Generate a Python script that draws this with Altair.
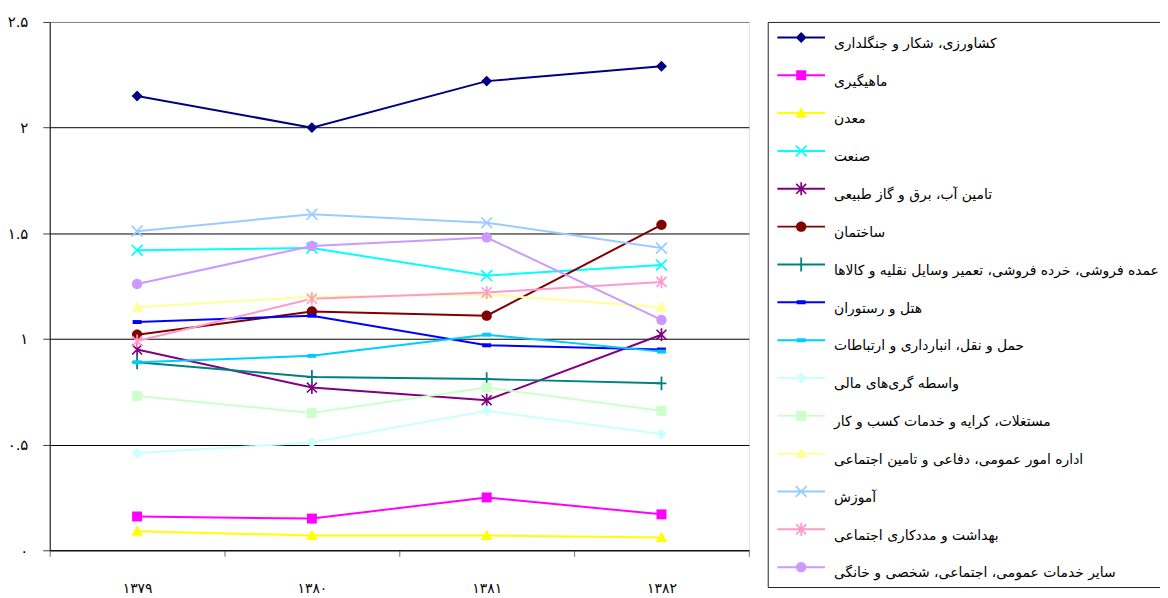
import altair as alt
import pandas as pd
import math

years = ["۱۳۷۹", "۱۳۸۰", "۱۳۸۱", "۱۳۸۲"]

series_names = [
    "کشاورزی، شکار و جنگلداری",
    "ماهیگیری",
    "معدن",
    "صنعت",
    "تامین آب، برق و گاز طبیعی",
    "ساختمان",
    "عمده فروشی، خرده فروشی، تعمیر وسایل نقلیه و کالاها",
    "هتل و رستوران",
    "حمل و نقل، انبارداری و ارتباطات",
    "واسطه گری‌های مالی",
    "مستغلات، کرایه و خدمات کسب و کار",
    "اداره امور عمومی، دفاعی و تامین اجتماعی",
    "آموزش",
    "بهداشت و مددکاری اجتماعی",
    "سایر خدمات عمومی، اجتماعی، شخصی و خانگی",
]

agriculture = [2.15, 2.00, 2.22, 2.29]
fishing = [0.16, 0.15, 0.25, 0.17]
mining = [0.09, 0.07, 0.07, 0.06]
industry = [1.42, 1.43, 1.30, 1.35]
utilities = [0.95, 0.77, 0.71, 1.02]
construction = [1.02, 1.13, 1.11, 1.54]
trade = [0.89, 0.82, 0.81, 0.79]
hotels = [1.08, 1.11, 0.97, 0.95]
transport = [0.89, 0.92, 1.02, 0.94]
finance = [0.46, 0.51, 0.66, 0.55]
real_estate = [0.73, 0.65, 0.77, 0.66]
public_admin = [1.15, 1.20, 1.21, 1.15]
education = [1.51, 1.59, 1.55, 1.43]
health = [0.99, 1.19, 1.22, 1.27]
other_services = [1.26, 1.44, 1.48, 1.09]

series_values = [agriculture, fishing, mining, industry, utilities, construction,
                 trade, hotels, transport, finance, real_estate, public_admin,
                 education, health, other_services]

colors = ["#000080", "#FF00FF", "#FFFF00", "#00FFFF", "#800080", "#800000",
          "#008080", "#0000FF", "#00CCFF", "#CCFFFF", "#CCFFCC", "#FFFF99",
          "#99CCFF", "#FF99CC", "#CC99FF"]
markers = ["diamond", "square", "triangle", "x", "asterisk", "circle", "plus",
           "dash", "dash", "diamond", "square", "triangle", "x", "asterisk", "circle"]

y_ticks = [0, 0.5, 1, 1.5, 2, 2.5]
y_tick_labels = ["۰", "۰.۵", "۱", "۱.۵", "۲", "۲.۵"]

# ---------------- marker paths (filled polygons) ----------------
def _poly(pts, u, dy=0.0):
    return "M" + "L".join(f"{x / u:.3f},{(y + dy) / u:.3f}" for x, y in pts) + "Z"

def _bar(x0, y0, x1, y1, w, u, dy=0.0):
    dx_, dy_ = x1 - x0, y1 - y0
    L = math.hypot(dx_, dy_)
    nx, ny = -dy_ / L * w / 2, dx_ / L * w / 2
    pts = [(x0 - nx, y0 - ny), (x1 - nx, y1 - ny), (x1 + nx, y1 + ny), (x0 + nx, y0 + ny)]
    area = sum(pts[i][0] * pts[(i + 1) % 4][1] - pts[(i + 1) % 4][0] * pts[i][1] for i in range(4))
    if area < 0:
        pts = pts[::-1]
    return _poly(pts, u, dy)

def marker_path(kind, u, dy=0.0):
    if kind == "diamond":
        a = 5.5
        return _poly([(0, -a), (a, 0), (0, a), (-a, 0)], u, dy)
    if kind == "square":
        a = 5
        return _poly([(-a, -a), (a, -a), (a, a), (-a, a)], u, dy)
    if kind == "triangle":
        return _poly([(0, -6), (5.8, 4.5), (-5.8, 4.5)], u, dy)
    if kind == "circle":
        r = 5.2 / u
        c = dy / u
        return (f"M{r:.3f},{c:.3f}A{r:.3f},{r:.3f} 0 1,1 {-r:.3f},{c:.3f}"
                f"A{r:.3f},{r:.3f} 0 1,1 {r:.3f},{c:.3f}Z")
    if kind == "x":
        a = 5.5
        return _bar(-a, -a, a, a, 1.7, u, dy) + _bar(a, -a, -a, a, 1.7, u, dy)
    if kind == "asterisk":
        a = 5
        return (_bar(-a, -a, a, a, 1.7, u, dy) + _bar(a, -a, -a, a, 1.7, u, dy)
                + _bar(0, -6.5, 0, 6.5, 1.7, u, dy))
    if kind == "plus":
        return _bar(0, -7, 0, 7, 1.8, u, dy) + _bar(-5, 0, 5, 0, 1.8, u, dy)
    if kind == "dash":
        return _poly([(-4.5, -2), (4.5, -2), (4.5, 2), (-4.5, 2)], u, dy)
    raise ValueError(kind)

PLOT_SIZE = 100          # unit = 5 px
LEG_SIZE = 784           # unit = 14 px
plot_shapes = [marker_path(m, 5) for m in markers]

def legend_path(kind):
    u = 14
    shift = 0.6
    ext = f"M0,{-19 / u:.3f}M0,{19 / u:.3f}"
    line = _poly([(-24, -1), (24, -1), (24, 1), (-24, 1)], u, shift)
    return ext + line + marker_path(kind, u, shift)

legend_shapes = [legend_path(m) for m in markers]

# ---------------- data ----------------
rows = []
for name, vals in zip(series_names, series_values):
    for yr, v in zip(years, vals):
        rows.append({"year": yr, "value": v, "series": name})
df = pd.DataFrame(rows)

# rows without a value: they draw nothing and only carry the legend
legend_df = pd.DataFrame({"year": [years[0]] * len(series_names),
                          "value": [None] * len(series_names),
                          "series": series_names})

label_expr = " : ".join(
    f"abs(datum.value - {v}) < 1e-6 ? '{lab}'" for v, lab in zip(y_ticks, y_tick_labels)
) + " : ''"

FONT = "DejaVu Sans"

x_enc = alt.X(
    "year:O",
    sort=years,
    scale=alt.Scale(type="band", paddingInner=0, paddingOuter=0),
    bandPosition=0.5,
    axis=alt.Axis(
        title=None, labelAngle=0, tickBand="extent", tickSize=6, tickColor="#707070",
        domainColor="#000000", labelFontSize=14, labelFont=FONT, labelColor="#000000",
        labelPadding=26, grid=False,
    ),
)
y_enc = alt.Y(
    "value:Q",
    scale=alt.Scale(domain=[0, 2.5], nice=False, zero=True),
    axis=alt.Axis(
        title=None, values=y_ticks, labelExpr=label_expr, tickSize=7,
        tickColor="#404040", domainColor="#000000", labelFontSize=15,
        labelFont=FONT, labelColor="#000000", labelPadding=15,
        gridColor={"condition": {"test": "datum.value >= 2.49", "value": "#808080"},
                   "value": "#000000"},
        gridWidth=1,
    ),
)

lines = alt.Chart(df).mark_line(strokeWidth=2).encode(
    x=x_enc, y=y_enc,
    color=alt.Color("series:N", sort=series_names,
                    scale=alt.Scale(domain=series_names, range=colors), legend=None),
    detail="series:N",
)

points = alt.Chart(df).mark_point(filled=True, size=PLOT_SIZE, opacity=1, strokeWidth=0).encode(
    x=x_enc, y=y_enc,
    color=alt.Color("series:N", sort=series_names,
                    scale=alt.Scale(domain=series_names, range=colors), legend=None),
    shape=alt.Shape("series:N", sort=series_names,
                    scale=alt.Scale(domain=series_names, range=plot_shapes), legend=None),
)

legend_layer = alt.Chart(legend_df).mark_point(
    filled=True, size=LEG_SIZE, strokeWidth=0, opacity=1
).encode(
    x=alt.X("year:O", sort=years),
    y=alt.Y("value:Q"),
    color=alt.Color(
        "series:N", sort=series_names,
        scale=alt.Scale(domain=series_names, range=colors),
        legend=alt.Legend(
            title=None, orient="none", legendX=723, legendY=0, direction="vertical",
            padding=1, symbolSize=LEG_SIZE, symbolOffset=18.7, labelOffset=19,
            rowPadding=0.1, symbolOpacity=1, symbolStrokeWidth=0,
            labelFont=FONT, labelFontSize=14, labelColor="#000000", labelLimit=600,
            labelBaseline="top",
            strokeColor="#222222", fillColor="#ffffff",
        ),
    ),
    shape=alt.Shape("series:N", sort=series_names,
                    scale=alt.Scale(domain=series_names, range=legend_shapes)),
)

chart = (
    alt.layer(lines, points, legend_layer)
    .resolve_scale(color="independent", shape="independent")
    .properties(
        width=704, height=532,
        autosize=alt.AutoSizeParams(type="none"),
        padding={"left": 42, "top": 12, "right": 414, "bottom": 46},
    )
    .configure_view(stroke="#808080", strokeWidth=1)
    .configure(background="#ffffff")
)

chart.save("out.html", embed_options={"renderer": "svg", "actions": False})
